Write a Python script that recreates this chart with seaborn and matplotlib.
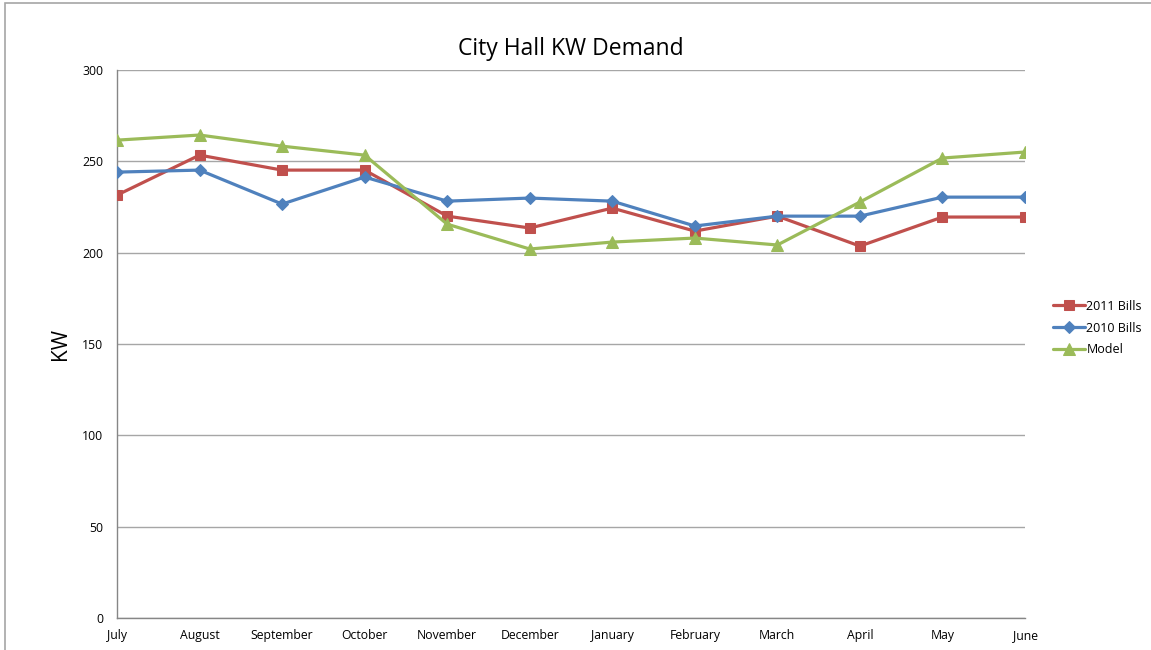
import matplotlib

matplotlib.use("Agg")
import matplotlib.pyplot as plt
import seaborn as sns
import pandas as pd
from matplotlib.patches import Rectangle

months = ["July", "August", "September", "October", "November", "December",
          "January", "February", "March", "April", "May", "June"]
bills_2011 = [231.5, 253.4, 245.2, 245.2, 220.0, 213.5, 224.4, 211.8, 220.0, 203.6, 219.5, 219.5]
bills_2010 = [244.1, 245.2, 226.6, 241.4, 228.2, 229.9, 228.2, 214.6, 220.0, 220.0, 230.4, 230.4]
model = [261.6, 264.4, 258.3, 253.4, 215.6, 202.0, 205.8, 208.0, 204.2, 227.7, 251.8, 255.1]

series_names = ["2011 Bills", "2010 Bills", "Model"]
colors = ["#C0504D", "#4F81BD", "#9BBB59"]
markers = ["s", "D", "^"]
marker_sizes = [7.5, 6, 8.5]

rows = []
for name, vals in zip(series_names, [bills_2011, bills_2010, model]):
    for i, v in enumerate(vals):
        rows.append({"month": i, "label": months[i], "series": name, "KW": v})
df = pd.DataFrame(rows)

sns.set_style("white")
plt.rcParams["font.family"] = ["Open Sans", "DejaVu Sans"]
plt.rcParams["text.color"] = "black"

fig = plt.figure(figsize=(11.51, 6.5), dpi=100)
ax = fig.add_axes([117 / 1151, 32 / 650, (1025 - 117) / 1151, (618 - 70) / 650])

# outer chart frame
fig.patches.append(Rectangle((5 / 1151, -0.01), 1.02, 1.0054, transform=fig.transFigure,
                             fill=False, edgecolor="#A6A6A6", linewidth=1.2))

for name, col, mk, ms in zip(series_names, colors, markers, marker_sizes):
    sub = df[df["series"] == name]
    sns.lineplot(data=sub, x="month", y="KW", ax=ax, color=col, linewidth=2.3,
                 marker=mk, markersize=ms, markeredgecolor=col, label=name, zorder=3)

ax.set_xlim(0, len(months) - 1)
ax.set_ylim(0, 300)
ax.set_yticks(range(0, 301, 50))
ax.set_xticks(range(len(months)))
ax.set_xticklabels(months)
ax.yaxis.grid(True, color="#A6A6A6", linewidth=1)
ax.xaxis.grid(False)
for s in ["top", "right"]:
    ax.spines[s].set_visible(False)
for s in ["left", "bottom"]:
    ax.spines[s].set_color("#868686")
    ax.spines[s].set_linewidth(1)
ax.tick_params(axis="both", which="both", length=5, color="#868686", width=1,
               labelsize=8.8, labelcolor="black", direction="out")
ax.tick_params(axis="x", pad=3)
ax.tick_params(axis="y", pad=5)
ax.set_xlabel("")
ax.set_ylabel("KW", fontsize=15, labelpad=8, color="black")
ax.set_title("City Hall KW Demand", fontsize=16.5, pad=11, color="black")

leg = ax.legend(loc="center left", bbox_to_anchor=(1.018, 0.529), frameon=False,
                fontsize=9, handlelength=2.6, handletextpad=0.1, labelspacing=0.7)

fig.savefig("out.png", dpi=100)
